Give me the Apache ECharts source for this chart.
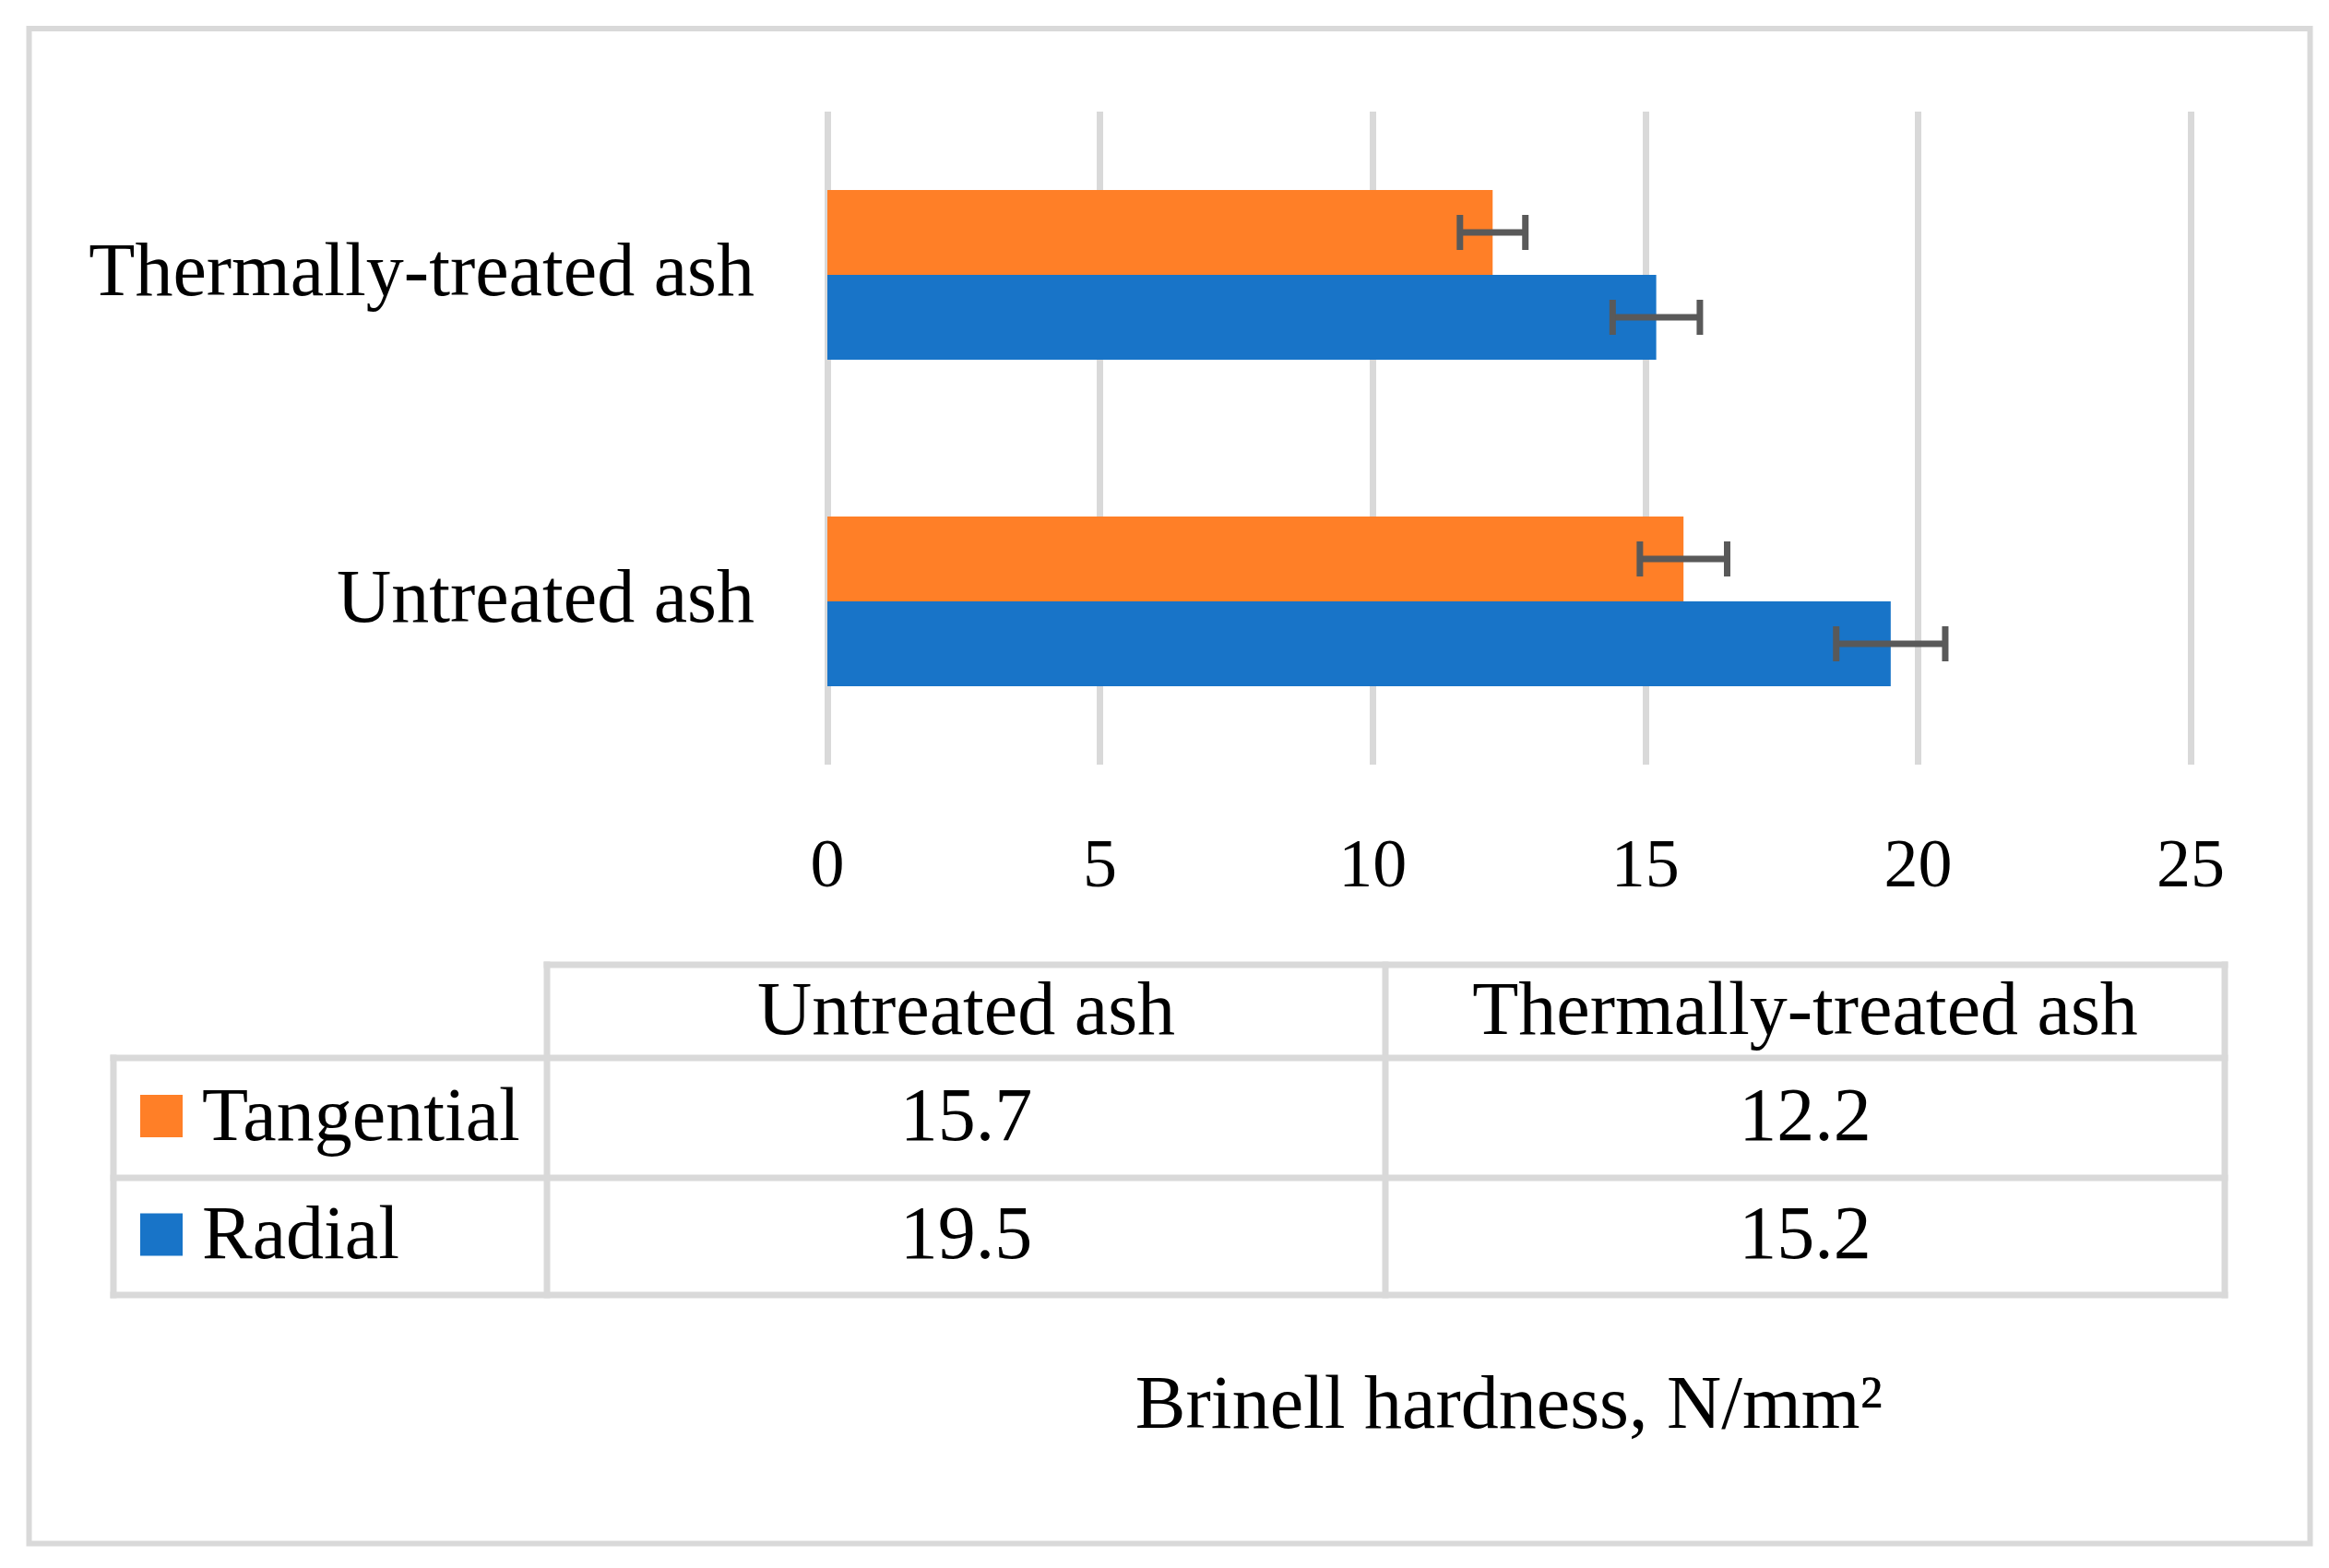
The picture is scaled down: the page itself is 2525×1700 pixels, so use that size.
<!DOCTYPE html>
<html>
<head>
<meta charset="utf-8">
<script src="https://cdn.jsdelivr.net/npm/echarts@6/dist/echarts.min.js"></script>
<style>
html,body{margin:0;padding:0;background:#fff;}
#chart{width:2525px;height:1700px;}
</style>
</head>
<body>
<div id="chart"></div>
<script>
// ---- data ----
const categories = ['Untreated ash', 'Thermally-treated ash'];
const seriesNames = ['Tangential', 'Radial'];
const tangential = [15.7, 12.2];
const radial = [19.5, 15.2];
const tangentialErr = [0.8, 0.6];
const radialErr = [1.0, 0.8];
const xTicks = [0, 5, 10, 15, 20, 25];
const axisTitle = 'Brinell hardness, N/mm\u00B2';

// ---- style ----
const ORANGE = '#FF7F27';
const BLUE = '#1874C8';
const GRIDC = '#D9D9D9';
const ERRC = '#595959';
const FONT = '"Liberation Serif", "DejaVu Serif", serif';

const chart = echarts.init(document.getElementById('chart'));

function errSeries(name, vals, errs, sign) {
  return {
    name: name + ' error',
    type: 'custom',
    z: 10,
    silent: true,
    encode: {x: 0, y: 1},
    data: vals.map((v, i) => [v, i, errs[i]]),
    renderItem: function (params, api) {
      const v = api.value(0), idx = api.value(1), e = api.value(2);
      const p1 = api.coord([v - e, idx]);
      const p2 = api.coord([v + e, idx]);
      const band = api.size([0, 1])[1];
      const y = p1[1] + sign * 0.13 * band;
      const h = 19;
      const st = {stroke: ERRC, lineWidth: 7, fill: null};
      return {
        type: 'group',
        children: [
          {type: 'line', shape: {x1: p1[0], y1: y, x2: p2[0], y2: y}, style: st},
          {type: 'line', shape: {x1: p1[0], y1: y - h, x2: p1[0], y2: y + h}, style: st},
          {type: 'line', shape: {x1: p2[0], y1: y - h, x2: p2[0], y2: y + h}, style: st}
        ]
      };
    }
  };
}

// ---- data table (graphic) ----
const T = {left: 123, c1: 593, c2: 1502, right: 2412, yTop: 1046, y1: 1147, y2: 1277, y3: 1404};
const LW = 7;
const graphics = [];
function hline(x1, x2, y) {
  graphics.push({type: 'rect', shape: {x: x1 - LW / 2, y: y - LW / 2, width: x2 - x1 + LW, height: LW}, style: {fill: GRIDC}, z: 1});
}
function vline(x, y1, y2) {
  graphics.push({type: 'rect', shape: {x: x - LW / 2, y: y1 - LW / 2, width: LW, height: y2 - y1 + LW}, style: {fill: GRIDC}, z: 1});
}
hline(T.c1, T.right, T.yTop);
hline(T.left, T.right, T.y1);
hline(T.left, T.right, T.y2);
hline(T.left, T.right, T.y3);
vline(T.left, T.y1, T.y3);
vline(T.c1, T.yTop, T.y3);
vline(T.c2, T.yTop, T.y3);
vline(T.right, T.yTop, T.y3);

function txt(str, x, y, align) {
  graphics.push({type: 'text', x: x, y: y, z: 5,
    style: {text: str, fill: '#000', font: '82px ' + FONT, textAlign: align || 'center', textVerticalAlign: 'middle'}});
}
const colCenters = [(T.c1 + T.c2) / 2, (T.c2 + T.right) / 2];
const rowCenters = [(T.y1 + T.y2) / 2, (T.y2 + T.y3) / 2];
categories.forEach((c, i) => txt(c, colCenters[i], (T.yTop + T.y1) / 2 + 3));
const rows = [tangential, radial];
const rowColors = [ORANGE, BLUE];
seriesNames.forEach((n, r) => {
  graphics.push({type: 'rect', z: 5, shape: {x: 152, y: rowCenters[r] - 23 - 2, width: 46, height: 46}, style: {fill: rowColors[r]}});
  txt(n, 219, rowCenters[r] + 2, 'left');
  rows[r].forEach((v, i) => txt(v.toFixed(1), colCenters[i], rowCenters[r] + 2));
});

// outer frame
graphics.push({type: 'rect', z: 0, shape: {x: 31.5, y: 31, width: 2504.5 - 31.5, height: 1673.5 - 31},
  style: {fill: null, stroke: GRIDC, lineWidth: 6}});

chart.setOption({
  animation: false,
  backgroundColor: '#fff',
  grid: {left: 897, right: 150, top: 121, bottom: 871, containLabel: false},
  xAxis: {
    type: 'value', min: xTicks[0], max: xTicks[xTicks.length - 1], interval: xTicks[1] - xTicks[0],
    axisLine: {show: false}, axisTick: {show: false},
    splitLine: {show: true, lineStyle: {color: GRIDC, width: 7}},
    axisLabel: {fontSize: 74, fontFamily: FONT, color: '#000', margin: 76},
    name: axisTitle, nameLocation: 'middle', nameGap: 697,
    nameTextStyle: {fontSize: 82, fontFamily: FONT, color: '#000', verticalAlign: 'middle'}
  },
  yAxis: {
    type: 'category', data: categories,
    axisLine: {show: false}, axisTick: {show: false}, splitLine: {show: false},
    axisLabel: {fontSize: 82, fontFamily: FONT, color: '#000', margin: 79}
  },
  series: [
    {name: seriesNames[0], type: 'bar', data: tangential, barWidth: '26%', barGap: '0%', itemStyle: {color: ORANGE}, z: 3},
    {name: seriesNames[1], type: 'bar', data: radial, barWidth: '26%', barGap: '0%', itemStyle: {color: BLUE}, z: 3},
    errSeries(seriesNames[0], tangential, tangentialErr, -1),
    errSeries(seriesNames[1], radial, radialErr, 1)
  ],
  graphic: graphics
});
</script>
</body>
</html>
